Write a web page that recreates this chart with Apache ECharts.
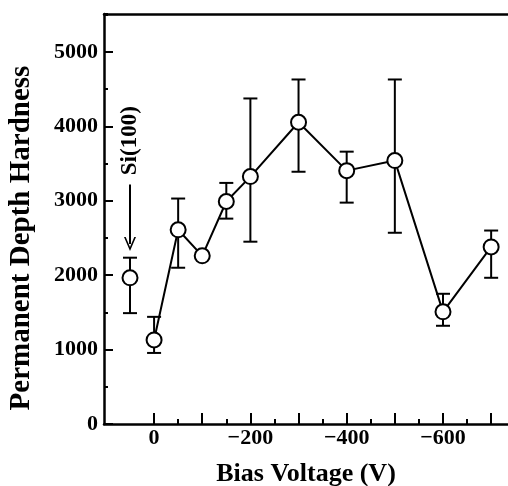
<!DOCTYPE html>
<html>
<head>
<meta charset="utf-8">
<title>Permanent Depth Hardness vs Bias Voltage</title>
<script src="https://cdn.jsdelivr.net/npm/echarts@6/dist/echarts.min.js"></script>
<style>
  html, body { margin: 0; padding: 0; background: #fff; }
  #chart { width: 508px; height: 486px; }
</style>
</head>
<body>
<div id="chart"></div>
<script>
// bias voltage (V) and hardness values
const biasV = [0, -50, -100, -150, -200, -300, -400, -500, -600, -700]
const hardness = [1130, 2610, 2260, 2990, 3325, 4055, 3405, 3540, 1507, 2380]
const errLow = [955, 2100, 2260, 2760, 2450, 3390, 2975, 2570, 1320, 1965]
const errHigh = [1440, 3030, 2260, 3240, 4375, 4630, 3660, 4630, 1750, 2600]

// Si(100) reference point, drawn left of 0 V
const siV = [50]
const siHardness = [1965]
const siLow = [1490]
const siHigh = [2235]

// axis ticks
const xLabelTicks = [0, -200, -400, -600]
const xMajorTicks = [0, -100, -200, -300, -400, -500, -600, -700]
const xMinorTicks = [-50, -150, -250, -350, -450, -550, -650]

const FONT = 'Liberation Serif, Times New Roman, serif'
const X_MIN = -735, X_MAX = 104
const Y_MAX = 5510

const myChart = echarts.init(document.getElementById('chart'), null, { renderer: 'canvas' })

// error bar drawer: vertical line with caps, through the axis scales
function errorBar(params, api) {
	const x = api.value(0)
	const lo = api.value(1)
	const hi = api.value(2)
	if (lo === hi) return null
	const pLo = api.coord([x, lo])
	const pHi = api.coord([x, hi])
	const w = 7
	const st = { stroke: '#000', lineWidth: 2 }
	return {
		type: 'group',
		children: [
			{ type: 'line', shape: { x1: pLo[0], y1: pLo[1], x2: pHi[0], y2: pHi[1] }, style: st },
			{ type: 'line', shape: { x1: pLo[0] - w, y1: pLo[1], x2: pLo[0] + w, y2: pLo[1] }, style: st },
			{ type: 'line', shape: { x1: pHi[0] - w, y1: pHi[1], x2: pHi[0] + w, y2: pHi[1] }, style: st }
		]
	}
}

const labelStyle = { fontFamily: FONT, fontWeight: 'bold', fontSize: 22, color: '#000' }
const circleStyle = { color: '#fff', borderColor: '#000', borderWidth: 2, opacity: 1 }

myChart.setOption({
	backgroundColor: '#fff',
	animation: false,
	grid: { left: 104, right: 0, top: 14, bottom: 62, containLabel: false, outerBoundsMode: 'none' },
	xAxis: [
		{
			type: 'value', position: 'bottom', inverse: true, min: X_MIN, max: X_MAX,
			axisLine: { onZero: false, lineStyle: { color: '#000', width: 2.5 } },
			axisTick: { inside: true, length: 11, customValues: xMajorTicks, lineStyle: { color: '#000', width: 2 } },
			axisLabel: Object.assign({ customValues: xLabelTicks, margin: 3,
				formatter: v => (v < 0 ? '\u2212' + Math.abs(v) : String(v)) }, labelStyle),
			splitLine: { show: false },
			name: 'Bias Voltage (V)', nameLocation: 'middle', nameGap: 37,
			nameTextStyle: { fontFamily: FONT, fontWeight: 'bold', fontSize: 26, color: '#000' }
		},
		{
			// short ticks every 50 V
			type: 'value', position: 'bottom', inverse: true, min: X_MIN, max: X_MAX,
			axisLine: { show: false, onZero: false },
			axisTick: { inside: true, length: 5, customValues: xMinorTicks, lineStyle: { color: '#000', width: 2 } },
			axisLabel: { show: false },
			splitLine: { show: false }
		},
		{
			// top frame line
			type: 'value', position: 'top', inverse: true, min: X_MIN, max: X_MAX,
			axisLine: { onZero: false, lineStyle: { color: '#000', width: 2.5 } },
			axisTick: { show: false },
			axisLabel: { show: false },
			splitLine: { show: false }
		}
	],
	yAxis: [
		{
			type: 'value', position: 'left', min: 0, max: Y_MAX, interval: 1000,
			axisLine: { show: true, onZero: false, lineStyle: { color: '#000', width: 2.5 } },
			axisTick: { show: true, inside: true, length: 9, lineStyle: { color: '#000', width: 2 } },
			axisLabel: Object.assign({ margin: 6, showMaxLabel: false, formatter: v => String(v) }, labelStyle),
			splitLine: { show: false },
			name: 'Permanent Depth Hardness', nameLocation: 'middle', nameGap: 68,
			// title sits a bit below the middle of the axis in the original
			nameTextStyle: { fontFamily: FONT, fontWeight: 'bold', fontSize: 29, color: '#000', padding: [0, 38, 0, 0] }
		},
		{
			// short ticks every 500
			type: 'value', position: 'left', offset: 0, min: 0, max: Y_MAX, interval: 500,
			axisLine: { show: false, onZero: false },
			axisTick: { show: true, inside: true, length: 4, lineStyle: { color: '#000', width: 2 } },
			axisLabel: { show: false },
			splitLine: { show: false }
		}
	],
	series: [
		{
			type: 'custom', name: 'err', z: 1,
			renderItem: errorBar,
			encode: { x: 0, y: [1, 2] },
			data: biasV.map((v, i) => [v, errLow[i], errHigh[i]])
		},
		{
			type: 'custom', name: 'siErr', z: 1,
			renderItem: errorBar,
			encode: { x: 0, y: [1, 2] },
			data: siV.map((v, i) => [v, siLow[i], siHigh[i]])
		},
		{
			type: 'line', name: 'hardness', z: 3,
			data: biasV.map((v, i) => [v, hardness[i]]),
			symbol: 'circle', symbolSize: 15, showAllSymbol: true,
			lineStyle: { color: '#000', width: 2 },
			itemStyle: circleStyle
		},
		{
			type: 'scatter', name: 'Si(100)', z: 3,
			data: siV.map((v, i) => [v, siHardness[i]]),
			symbol: 'circle', symbolSize: 15,
			itemStyle: circleStyle,
			markLine: {
				silent: true, animation: false,
				symbol: ['none', 'path://M6,0 L12,14 L10.3,14 L6,4 L1.7,14 L0,14 Z'],
				symbolSize: [12, 14],
				lineStyle: { color: '#000', width: 2, type: 'solid' },
				label: { show: false },
				data: [[{ coord: [50, 3220] }, { coord: [50, 2420] }]]
			},
			markPoint: {
				silent: true, symbolSize: 0,
				label: { show: true, position: 'inside', rotate: 90, offset: [5, 0],
					formatter: 'Si(100)', fontFamily: FONT, fontWeight: 'bold', fontSize: 23, color: '#000' },
				data: [{ coord: [50, 3740] }]
			}
		}
	]
})
</script>
</body>
</html>
